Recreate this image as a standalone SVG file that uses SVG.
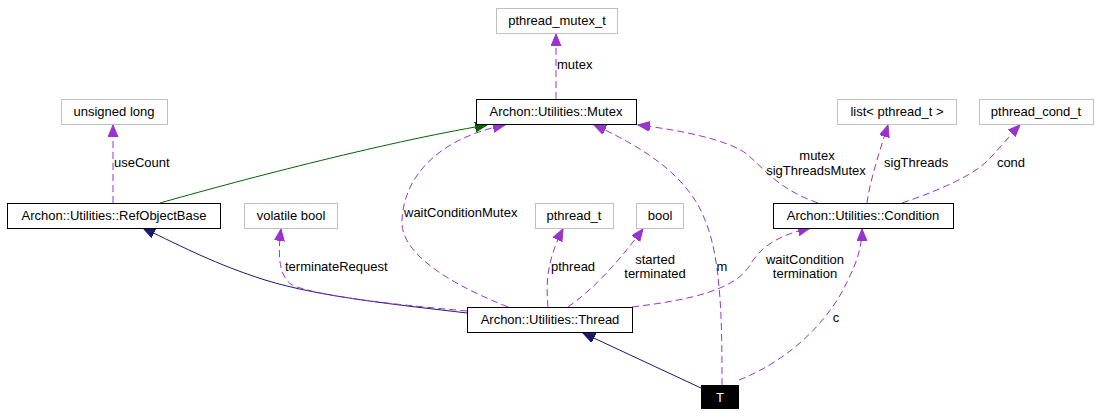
<svg xmlns="http://www.w3.org/2000/svg" width="1100" height="416" viewBox="0 0 1100 416">
<style>
text{font-family:"Liberation Sans",Arial,sans-serif;font-size:13px;fill:#000}
.n text{text-anchor:middle}
.b{fill:#fff;stroke:#000;stroke-width:1}
.g{fill:#fff;stroke:#bfbfbf;stroke-width:1}
.p{fill:none;stroke:#9a32cd;stroke-width:1;stroke-dasharray:7,4;marker-end:url(#ap)}
.nv{fill:none;stroke:#191970;stroke-width:1;marker-end:url(#an)}
.gr{fill:none;stroke:#006400;stroke-width:1;marker-end:url(#ag)}
.l{text-anchor:start}
.c{text-anchor:middle}
.n text.w{fill:#fff}
</style>
<defs>
<marker id="ap" markerUnits="userSpaceOnUse" markerWidth="13" markerHeight="11" refX="12" refY="5" orient="auto" viewBox="0 0 13 11"><path d="M0,0 L12,5 L0,10 z" fill="#9a32cd" stroke="#9a32cd"/></marker>
<marker id="an" markerUnits="userSpaceOnUse" markerWidth="13" markerHeight="11" refX="12" refY="5" orient="auto" viewBox="0 0 13 11"><path d="M0,0 L12,5 L0,10 z" fill="#191970" stroke="#191970"/></marker>
<marker id="ag" markerUnits="userSpaceOnUse" markerWidth="13" markerHeight="11" refX="12" refY="5" orient="auto" viewBox="0 0 13 11"><path d="M0,0 L12,5 L0,10 z" fill="#006400" stroke="#006400"/></marker>
</defs>
<rect width="1100" height="416" fill="#fff"/>
<g id="connectors">
<path class="p" d="M556,99 L556,34"/>
<path class="p" d="M113,203 L113,125"/>
<path class="gr" d="M160,203 C 230,183 380,143 487,125"/>
<path class="nv" d="M467,313 C 400,305 320,297 265,280 C 215,264 185,248 143,228"/>
<path class="p" d="M467,311 C 400,305 320,297 292,285 C 280,277 277,258 281,229"/>
<path class="p" d="M508,307 C 440,280 400,250 402,220 C 404,175 440,138 505,125"/>
<path class="p" d="M548,307 C 546,285 546,262 563,229"/>
<path class="p" d="M568,307 C 595,288 618,262 643,229"/>
<path class="p" d="M632,307 C 690,300 735,290 750,265 C 762,245 780,235 810,228"/>
<path class="p" d="M818,203 C 780,190 765,170 748,155 C 730,140 680,130 638,125"/>
<path class="p" d="M722,385 C 722,330 722,260 705,220 C 690,180 650,150 594,125"/>
<path class="p" d="M739,380 C 790,360 830,320 848,280 C 858,260 862,245 862,229"/>
<path class="nv" d="M701,388 L583,333"/>
<path class="p" d="M867,203 C 870,180 880,150 888,125"/>
<path class="p" d="M902,203 C 940,190 975,175 990,158 C 1000,148 1010,135 1020,125"/>
</g>
<g id="labels">
<text class="l" x="557" y="69">mutex</text>
<text class="l" x="114" y="167">useCount</text>
<text class="l" x="285" y="271">terminateRequest</text>
<text class="l" x="404" y="217">waitConditionMutex</text>
<text class="l" x="551" y="271">pthread</text>
<text class="c" x="655" y="264">started</text>
<text class="c" x="655" y="278">terminated</text>
<text class="c" x="805" y="264">waitCondition</text>
<text class="c" x="805" y="278">termination</text>
<text class="c" x="817" y="160">mutex</text>
<text class="c" x="816" y="175">sigThreadsMutex</text>
<text class="c" x="722" y="271">m</text>
<text class="c" x="836" y="322">c</text>
<text class="l" x="884" y="167">sigThreads</text>
<text class="c" x="1011" y="167">cond</text>
</g>
<g id="n_pthread_mutex_t" class="n"><rect class="g" x="496.5" y="8.5" width="121" height="25"/><text x="557" y="25">pthread_mutex_t</text></g>
<g id="n_Mutex" class="n"><rect class="b" x="476.5" y="99.5" width="160" height="25"/><text x="556" y="116">Archon::Utilities::Mutex</text></g>
<g id="n_unsigned_long" class="n"><rect class="g" x="61.5" y="99.5" width="106" height="25"/><text x="114" y="116">unsigned long</text></g>
<g id="n_list" class="n"><rect class="g" x="837.5" y="99.5" width="119" height="25"/><text x="897" y="116">list&lt; pthread_t &gt;</text></g>
<g id="n_pthread_cond_t" class="n"><rect class="g" x="979.5" y="99.5" width="114" height="25"/><text x="1036" y="116">pthread_cond_t</text></g>
<g id="n_RefObjectBase" class="n"><rect class="b" x="7.5" y="203.5" width="213" height="25"/><text x="114" y="220">Archon::Utilities::RefObjectBase</text></g>
<g id="n_volatile_bool" class="n"><rect class="g" x="244.5" y="203.5" width="93" height="25"/><text x="291" y="220">volatile bool</text></g>
<g id="n_pthread_t" class="n"><rect class="g" x="535.5" y="203.5" width="78" height="25"/><text x="574" y="220">pthread_t</text></g>
<g id="n_bool" class="n"><rect class="g" x="636.5" y="203.5" width="47" height="25"/><text x="660" y="220">bool</text></g>
<g id="n_Condition" class="n"><rect class="b" x="773.5" y="203.5" width="180" height="25"/><text x="863" y="220">Archon::Utilities::Condition</text></g>
<g id="n_Thread" class="n"><rect class="b" x="467.5" y="307.5" width="165" height="25"/><text x="550" y="324">Archon::Utilities::Thread</text></g>
<g id="n_T" class="n"><rect x="701" y="385" width="38" height="24" fill="#000"/><text class="w" x="720" y="402">T</text></g>
</svg>
